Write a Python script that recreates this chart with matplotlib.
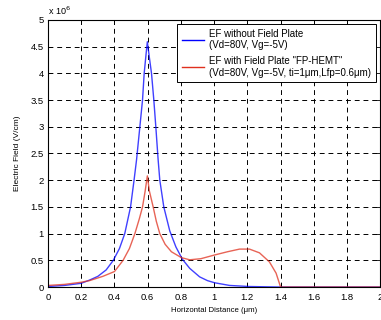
import numpy as np
import matplotlib
matplotlib.use("Agg")
import matplotlib.pyplot as plt

plt.rcParams["font.family"] = ["Liberation Sans", "DejaVu Sans"]

# electric field along the channel, in units of 1e6 V/cm
x_nofp = [0.0, 0.1, 0.2, 0.25, 0.3, 0.35, 0.393, 0.43, 0.462, 0.497, 0.518,
          0.533, 0.553, 0.569, 0.579, 0.59, 0.598, 0.61, 0.623, 0.637, 0.649,
          0.663, 0.673, 0.697, 0.733, 0.77, 0.809, 0.853, 0.913, 0.96, 1.003,
          1.093, 1.21, 1.3, 1.4, 1.6, 1.8, 2.0]
ef_nofp = [0.01, 0.03, 0.07, 0.13, 0.2, 0.32, 0.5, 0.72, 1.0, 1.5, 2.0,
           2.38, 3.0, 3.5, 4.0, 4.35, 4.59, 4.3, 4.0, 3.5, 3.0,
           2.38, 2.0, 1.5, 1.05, 0.75, 0.52, 0.35, 0.19, 0.12, 0.08,
           0.03, 0.01, 0.005, 0.0, 0.0, 0.0, 0.0]

x_fp = [0.0, 0.1, 0.2, 0.25, 0.33, 0.4, 0.452, 0.49, 0.523, 0.55, 0.569,
        0.585, 0.598, 0.61, 0.633, 0.652, 0.673, 0.705, 0.743, 0.803, 0.853,
        0.92, 1.003, 1.08, 1.153, 1.213, 1.273, 1.333, 1.373, 1.397, 1.4,
        1.6, 1.8, 2.0]
ef_fp = [0.03, 0.05, 0.09, 0.12, 0.2, 0.29, 0.5, 0.72, 1.0, 1.28, 1.5,
         1.8, 2.08, 1.8, 1.5, 1.23, 1.0, 0.8, 0.66, 0.55, 0.51,
         0.53, 0.6, 0.66, 0.71, 0.71, 0.64, 0.47, 0.26, 0.03, 0.0,
         0.0, 0.0, 0.0]

label_nofp = "EF without Field Plate\n(Vd=80V, Vg=-5V)"
label_fp = 'EF with Field Plate "FP-HEMT"\n(Vd=80V, Vg=-5V, ti=1\u03bcm,Lfp=0.6\u03bcm)'

fig = plt.figure(figsize=(3.81, 3.2), dpi=100)
ax = fig.add_axes([0.126, 0.103, 0.872, 0.835])

ax.plot(x_nofp, ef_nofp, color="#0000ff", lw=1.0, alpha=0.75, label=label_nofp)
ax.plot(x_fp, ef_fp, color="#e0301e", lw=1.0, alpha=0.75, label=label_fp)

ax.set_xlim(0, 2)
ax.set_ylim(0, 5)
ax.set_xticks(np.arange(0, 2.01, 0.2))
ax.set_xticklabels(["0", "0.2", "0.4", "0.6", "0.8", "1", "1.2", "1.4", "1.6", "1.8", "2"])
ax.set_yticks(np.arange(0, 5.01, 0.5))
ax.set_yticklabels(["0", "0.5", "1", "1.5", "2", "2.5", "3", "3.5", "4", "4.5", "5"])
ax.tick_params(labelsize=6.8, direction="in", length=3, width=0.6, pad=3,
               top=True, right=True)
ax.tick_params(axis="x", pad=4)
ax.grid(True, color="black", linestyle=(0, (5, 4)), linewidth=0.7)
for s in ax.spines.values():
    s.set_linewidth(0.8)

ax.set_xlabel("Horizontal Distance (\u03bcm)", fontsize=5.6, labelpad=4)
ax.set_ylabel("Electric Field (V/cm)", fontsize=6.0, labelpad=7)
ax.text(0.0, 1.01, "x 10$^6$", transform=ax.transAxes, fontsize=6.5,
        ha="left", va="bottom")

leg = ax.legend(loc="upper right", fontsize=7.0, frameon=True, fancybox=False,
                edgecolor="black", framealpha=1, handlelength=2.2,
                borderaxespad=0.4, labelspacing=0.6, handletextpad=0.6,
                borderpad=0.5)
leg.get_frame().set_linewidth(0.7)
for line in leg.get_lines():
    line.set_alpha(1)

fig.savefig("out.png", dpi=100)
